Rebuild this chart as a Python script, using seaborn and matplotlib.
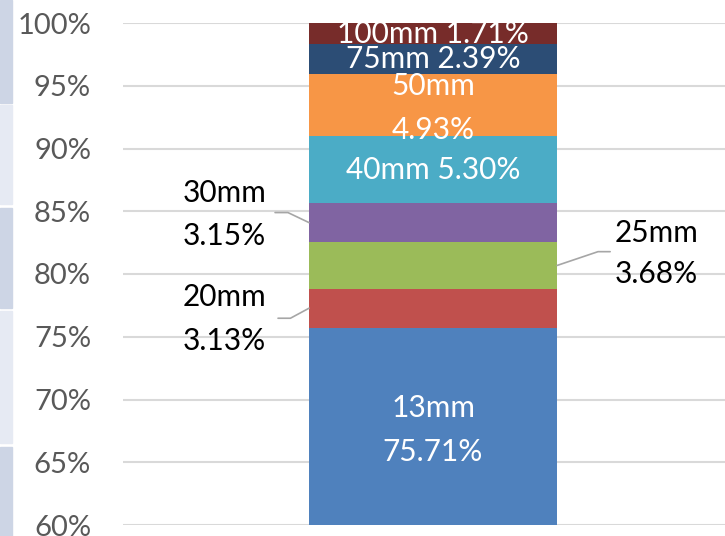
import seaborn as sns
import matplotlib.pyplot as plt
import matplotlib.patches as mpatches
import pandas as pd
import numpy as np

# Data
sizes = ["13mm", "20mm", "25mm", "30mm", "40mm", "50mm", "75mm", "100mm"]
shares = [75.71, 3.13, 3.68, 3.15, 5.30, 4.93, 2.39, 1.71]
colors = ["#4F81BD", "#C0504D", "#9BBB59", "#8064A2",
          "#4BACC6", "#F79646", "#2C4D75", "#772C2A"]
yticks = [60, 65, 70, 75, 80, 85, 90, 95, 100]

sns.set_style("white")
plt.rcParams["font.family"] = ["Lato", "DejaVu Sans"]

fig = plt.figure(figsize=(7.25, 5.36), dpi=100)
ax = fig.add_axes([123 / 725, 1 - 525 / 536, 602 / 725, (525 - 23) / 536])

# stacked bar: draw cumulative tops from tallest to shortest
tops = np.cumsum(shares)
bottoms = tops - np.array(shares)
for i in range(len(sizes) - 1, -1, -1):
    df = pd.DataFrame({"x": ["all"], "y": [tops[i]]})
    sns.barplot(data=df, x="x", y="y", color=colors[i], saturation=1,
                width=1.0, linewidth=0, ax=ax, zorder=2)

ax.set_xlim(-1.25, 1.177)
ax.set_ylim(60, 100)
ax.set_yticks(yticks)
ax.set_yticklabels([f"{t}%" for t in yticks], fontsize=21, color="#595959")
ax.tick_params(axis="y", length=0, pad=23)
ax.set_xticks([])
ax.set_xlabel("")
ax.set_ylabel("")
ax.grid(axis="y", color="#d9d9d9", linewidth=1.5, zorder=0)
ax.set_axisbelow(True)
for s in ax.spines.values():
    s.set_visible(False)

mid = (bottoms + tops) / 2
fs = 21.5
ls = 1.68

# labels inside the bar
ax.text(0, (60 + tops[0]) / 2 - 0.3, f"{sizes[0]}\n{shares[0]:.2f}%", ha="center",
        va="center", color="white", fontsize=fs, linespacing=ls, zorder=3)
for i in [4, 6, 7]:
    ax.text(0, mid[i], f"{sizes[i]} {shares[i]:.2f}%", ha="center",
            va="center", color="white", fontsize=fs, zorder=3)
ax.text(0, mid[5] - 0.2, f"{sizes[5]}\n{shares[5]:.2f}%", ha="center",
        va="center", color="white", fontsize=fs, linespacing=ls, zorder=3)

# labels outside with leader lines
lead = "#a6a6a6"
# 30mm (left)
ax.plot([-0.5, -0.585, -0.637], [mid[3], mid[3] + 0.8, mid[3] + 0.8],
        color=lead, lw=1.2, zorder=3, clip_on=False)
ax.text(-0.84, mid[3] + 0.65, f"{sizes[3]}\n{shares[3]:.2f}%", ha="center",
        va="center", color="black", fontsize=fs, linespacing=ls)
# 20mm (left)
ax.plot([-0.5, -0.575, -0.625], [mid[1], mid[1] - 0.8, mid[1] - 0.8],
        color=lead, lw=1.2, zorder=3, clip_on=False)
ax.text(-0.84, mid[1] - 0.85, f"{sizes[1]}\n{shares[1]:.2f}%", ha="center",
        va="center", color="black", fontsize=fs, linespacing=ls)
# 25mm (right)
ax.plot([0.5, 0.665, 0.714], [mid[2], mid[2] + 1.1, mid[2] + 1.1],
        color=lead, lw=1.2, zorder=3, clip_on=False)
ax.text(0.9, mid[2] + 0.95, f"{sizes[2]}\n{shares[2]:.2f}%", ha="center",
        va="center", color="black", fontsize=fs, linespacing=1.55)

# bluish strip on the left edge
bands = [(0, 103, "#cdd5e5"), (105, 204, "#e6eaf3"), (208, 308, "#cdd5e5"),
         (311, 443, "#e6eaf3"), (447, 536, "#cdd5e5")]
for y0, y1, c in bands:
    fig.patches.append(mpatches.Rectangle((0, 1 - y1 / 536), 12 / 725,
                                          (y1 - y0) / 536, color=c,
                                          transform=fig.transFigure))

plt.savefig("out.png", dpi=100)
